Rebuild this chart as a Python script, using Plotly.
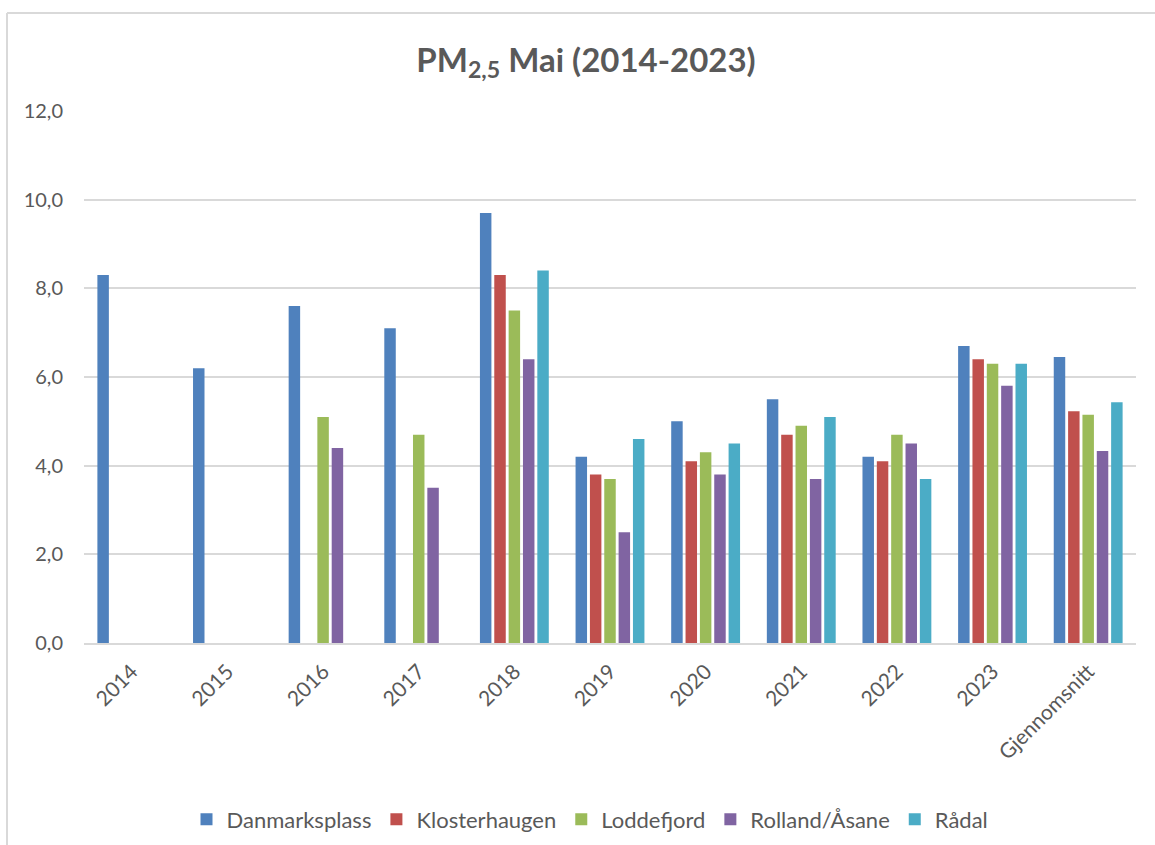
import plotly.graph_objects as go

categories = ["2014", "2015", "2016", "2017", "2018", "2019", "2020", "2021", "2022", "2023", "Gjennomsnitt"]

danmarksplass = [8.3, 6.2, 7.6, 7.1, 9.7, 4.2, 5.0, 5.5, 4.2, 6.7, 6.45]
klosterhaugen = [None, None, None, None, 8.3, 3.8, 4.1, 4.7, 4.1, 6.4, 5.23]
loddefjord = [None, None, 5.1, 4.7, 7.5, 3.7, 4.3, 4.9, 4.7, 6.3, 5.15]
rolland_asane = [None, None, 4.4, 3.5, 6.4, 2.5, 3.8, 3.7, 4.5, 5.8, 4.33]
radal = [None, None, None, None, 8.4, 4.6, 4.5, 5.1, 3.7, 6.3, 5.43]

series_names = ["Danmarksplass", "Klosterhaugen", "Loddefjord", "Rolland/Åsane", "Rådal"]
series_values = [danmarksplass, klosterhaugen, loddefjord, rolland_asane, radal]
colors = ["#4F81BD", "#C0504D", "#9BBB59", "#8064A2", "#4BACC6"]

FONT = "Lato, Carlito, Calibri, sans-serif"
TXT = "#595959"

W, H = 1155, 845
L, R, T, B = 84, 19, 111, 201.5

fig = go.Figure()
for name, vals, col in zip(series_names, series_values, colors):
    fig.add_trace(go.Bar(x=categories, y=vals, name=name, marker_color=col,
                         marker_line_width=0))

pw = W - L - R
ph = H - T - B

def px_x(x):
    return (x - L) / pw

def px_y(y):
    return (H - B - y) / ph

fig.update_layout(
    width=W, height=H,
    autosize=False,
    margin=dict(l=L, r=R, t=T, b=B, autoexpand=False),
    paper_bgcolor="white", plot_bgcolor="white",
    barmode="group", bargap=0.25, bargroupgap=0.2,
    separators=",.",
    font=dict(family=FONT, color=TXT, size=19),
    title=dict(text="PM<sub>2,5</sub> Mai (2014-2023)", x=px_x(586), xref="paper",
               y=1 - 60 / H, yref="container", yanchor="middle", xanchor="center",
               font=dict(family=FONT, size=33, color=TXT, weight="bold")),
    legend=dict(orientation="h", x=px_x(590), xanchor="center", y=px_y(820), yanchor="middle",
                font=dict(family=FONT, size=22, color=TXT), itemwidth=30,
                traceorder="normal", itemclick=False),
    xaxis=dict(tickangle=-45, showgrid=False, showline=True, linecolor="#D9D9D9",
               linewidth=2, ticks="", ticklabelstandoff=6,
               tickfont=dict(size=21, color=TXT, family=FONT)),
    yaxis=dict(range=[0, 12], dtick=2, tickformat=".1f", showgrid=True,
               gridcolor="#D9D9D9", gridwidth=1.5, zeroline=False, showline=False,
               ticks="", ticklabelstandoff=20,
               tickfont=dict(size=20, color=TXT, family=FONT)),
    shapes=[
        dict(type="line", xref="paper", yref="paper", x0=px_x(7), x1=px_x(1160),
             y0=px_y(13), y1=px_y(13), line=dict(color="#D9D9D9", width=2)),
        dict(type="line", xref="paper", yref="paper", x0=px_x(7), x1=px_x(7),
             y0=px_y(13), y1=px_y(850), line=dict(color="#D9D9D9", width=2)),
    ],
)

fig.write_html("out.html", config={"displayModeBar": False},
               post_script="document.body.style.margin='0';document.body.style.overflow='hidden';")
